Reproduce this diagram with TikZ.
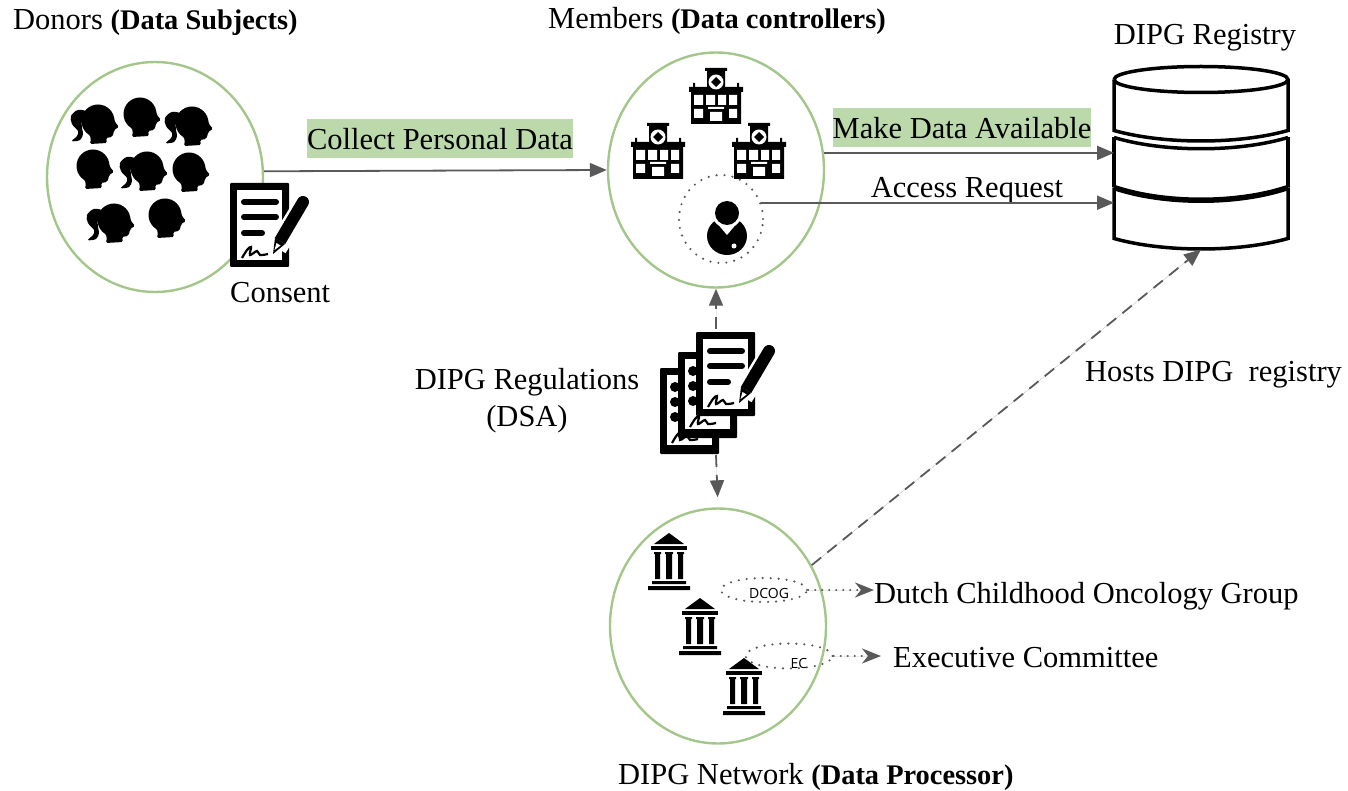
\documentclass[tikz,border=0pt]{standalone}
\usepackage{fontspec}
\setmainfont{Liberation Serif}
\newfontfamily\tagfont{Open Sans}
\usepackage{xcolor}
\usetikzlibrary{arrows.meta,positioning,shapes.geometric}
\definecolor{ringgreen}{HTML}{A3C78A}
\definecolor{markgreen}{HTML}{BBD9AB}
\definecolor{flowgray}{HTML}{595959}
\newcommand{\boldpart}[1]{{\fontsize{28.4}{37}\selectfont\textbf{#1}}}

\begin{document}
\begin{tikzpicture}[
    x=1pt, y=-1pt,
    txt/.style={font=\fontsize{30.5}{37}\selectfont, inner sep=0pt, align=center},
    marked/.style={txt, fill=markgreen, minimum height=39pt},
    ring/.style={draw=ringgreen, line width=2.4pt, ellipse, inner sep=0pt, minimum width=216pt, minimum height=235pt},
    dotring/.style={draw=flowgray, ellipse, inner sep=0pt, line width=2.4pt, line cap=round, dash pattern=on 0pt off 8pt},
    spot/.style={inner sep=0pt, outer sep=0pt},
    arrow/.style={-{Triangle[length=17pt,width=14pt]}, draw=flowgray, fill=flowgray, line width=1.8pt},
    dasharrow/.style={arrow, dash pattern=on 12pt off 8pt},
    dotarrow/.style={-{Stealth[length=19pt,width=15pt,inset=6pt]}, draw=flowgray, fill=flowgray, line width=2.2pt, line cap=round, dash pattern=on 0pt off 7pt},
    headicon/.pic={
        \fill (-2,-4) circle (16.5pt);
        \fill[rounded corners=1.5pt] (-13,6) -- (-9,13) -- (-10,19) -- (7,18) -- (6,13) -- (12,12) -- (14,7) -- (14,5) -- (19,2) -- (15,-3) -- (13,-9) -- cycle;
    },
    tailicon/.pic={
        \pic at (5,0) {headicon};
        \fill plot[smooth cycle, tension=0.6] coordinates {(-8,-13) (-17,-15) (-24,-9) (-23,-1) (-17,6) (-18,11) (-23,16) (-15,15) (-12,9) (-13,3) (-13,-6)};
    },
    hospitalicon/.pic={
        \fill (16,0) rectangle (38,3) (18,3) rectangle (36,20);
        \fill (4,15) rectangle (6,20) (48,15) rectangle (50,20);
        \fill (0,19) rectangle (54,24) (2,23) rectangle (52,56);
        \fill[white] (27,14) circle (7.5pt);
        \fill (27,9) -- (32,14) -- (27,19) -- (22,14) -- cycle;
        \fill[white] (5,27) rectangle (14,37) (17,27) rectangle (26,37) (29,27) rectangle (37,37) (40,27) rectangle (48,37);
        \fill[white] (5,41) rectangle (14,50) (40,41) rectangle (48,50);
        \fill[white] (19,39) rectangle (35,41) (21,44) rectangle (33,53);
    },
    templeicon/.pic={
        \fill (21,0) -- (36,11) -- (6,11) -- cycle;
        \fill (3,13) rectangle (39,17);
        \fill (6,19) rectangle (13,21) (17,19) rectangle (25,21) (29,19) rectangle (36,21);
        \fill (7,21) rectangle (12,46) (18,21) rectangle (24,46) (30,21) rectangle (35,46);
        \fill (4,48) rectangle (38,51) (0,53) rectangle (42,57);
    },
    docicon/.pic={
        \fill[rounded corners=1pt] (0,0) rectangle (59,84);
        \fill[white] (7,7) rectangle (52,77);
        \draw[line width=6pt, line cap=round] (14,19) -- (46,19) (14,34) -- (46,34) (14,50) -- (32,50);
        \draw[line width=2.2pt] plot[smooth, tension=0.6] coordinates {(12,75) (17,67) (21,64) (20,72) (27,68) (30,72) (38,71)};
        \draw[white, line width=20pt] (75,19) -- (47,65);
        \draw[line width=12pt, line cap=round] (73,19) -- (60,41);
        \draw[line width=12pt] (60,41) -- (50,58);
        \fill (45,55) -- (55,61) -- (43,71) -- cycle;
        \fill[white] (46.5,60) -- (50.5,62.5) -- (44.5,67) -- cycle;
    },
    sheeticon/.pic={
        \fill[rounded corners=1pt] (0,0) rectangle (59,86);
        \fill[white] (7,7) rectangle (52,77);
        \fill (15,19) circle (5pt) (15,34) circle (5pt) (15,49) circle (5pt);
        \draw[line width=2.2pt] plot[smooth, tension=0.6] coordinates {(12,75) (17,67) (21,64) (20,72) (27,68) (30,72) (38,71)};
    },
]
    \useasboundingbox (0,0) rectangle (1348,791);

    % Circles
    \node[ring, minimum height=230pt] (donors) at (155,177) {};
    \node[ring] (members) at (716,170) {};
    \node[ring] (network) at (718,626) {};

    % Heads
    \pic at (95,125) {tailicon};
    \pic at (142,118) {headicon};
    \pic at (189,127) {tailicon};
    \pic at (95,170) {headicon};
    \pic at (144,172) {tailicon};
    \pic at (191,173) {headicon};
    \pic at (111,224) {tailicon};
    \pic at (167,219) {headicon};

    % Consent form
    \node[spot, minimum width=78pt, minimum height=84pt] (form) at (269,225) {};
    \pic at (230,183) {docicon};
    \node[txt, anchor=north west] (consent) at (230,282) {Consent};

    % Hospitals and doctor
    \pic at (689,68) {hospitalicon};
    \pic at (631,123) {hospitalicon};
    \pic at (732,123) {hospitalicon};
    \node[dotring, minimum width=84pt, minimum height=88pt] (doctor) at (721,219) {};
    \fill (727,236) ellipse (20pt and 19pt);
    \fill[white] (727,213) circle (15pt);
    \fill[white] (716,222) -- (738,222) -- (727,235) -- cycle;
    \fill (727,213) circle (12pt);
    \fill[white] (734,246) circle (2.5pt);

    % Regulations
    \node[spot, minimum width=112pt, minimum height=126pt] (regs) at (716,392) {};
    \pic at (660,368) {sheeticon};
    \pic at (678,352) {sheeticon};
    \pic at (696,332) {docicon};

    % Temples
    \pic at (648,533) {templeicon};
    \pic at (679,598) {templeicon};
    \pic at (723,658) {templeicon};
    \node[dotring, minimum width=86pt, minimum height=24pt] (dcog) at (764,590) {};
    \node[dotring, minimum width=87pt, minimum height=25pt] (ec) at (789,656) {};
    \node[spot, font=\tagfont\fontsize{14}{16}\selectfont] (dcogtext) at (769,593) {DCOG};
    \node[spot, font=\tagfont\fontsize{14}{16}\selectfont] (ectext) at (799,663) {EC};

    % Registry
    \node[spot, minimum width=174pt, minimum height=183pt] (registry) at (1201,158) {};
    \draw[line width=3.5pt] (registry.north west) ++(0,13) coordinate (dbtop)
        arc[start angle=180, end angle=-180, x radius=87pt, y radius=13pt];
    \draw[line width=3.5pt] (dbtop) -- ++(0,51) .. controls +(50,14) and +(-50,14) .. ++(174,0) -- ++(0,-51);
    \draw[line width=3.5pt] (dbtop) ++(0,58) -- ++(0,50) ++(174,0) -- ++(0,-50);
    \draw[line width=3.5pt] (dbtop) ++(0,58) .. controls +(50,15) and +(-50,15) .. ++(174,0);
    \draw[line width=5.5pt] (dbtop) ++(0,108) .. controls +(50,17) and +(-50,17) .. ++(174,0);
    \draw[line width=3.5pt] (dbtop) ++(0,108) -- ++(0,51) .. controls +(50,14) and +(-50,14) .. ++(174,0) -- ++(0,-51);

    % Titles
    \node[txt, anchor=west] (donorstitle) at (13,23) {Donors \boldpart{(Data Subjects)}};
    \node[txt, anchor=west] (memberstitle) at (548,21) {Members \boldpart{(Data controllers)}};
    \node[txt] (registrytitle) at (1205,38) {DIPG Registry};
    \node[txt, anchor=west] (networktitle) at (618,777) {DIPG Network \boldpart{(Data Processor)}};

    % Labels
    \node[marked, minimum width=266pt] (collect) at (440,139) {Collect Personal Data};
    \node[marked, minimum width=255pt] (available) at (962,128) {Make Data Available};
    \node[txt] (access) at (967,191) {Access Request};
    \node[txt] (regstext) at (527,401) {DIPG Regulations\\(DSA)};
    \node[txt, anchor=west] (hosts) at (1085,375) {Hosts DIPG\ \ registry};
    \node[txt, anchor=west] (dutch) at (874,596) {Dutch Childhood Oncology Group};
    \node[txt, anchor=west] (executive) at (893,658) {Executive Committee};

    % Arrows
    \draw[arrow] (donors.3) -- (members.west);
    \draw[arrow] (members.9) -- (members.9 -| registry.west);
    \draw[arrow] (doctor.22) -- (doctor.22 -| registry.west);
    \draw[dasharrow] (regs.north) -- (members.south);
    \draw[dasharrow, shorten >=10pt] (regs.south) -- (network.north);
    \draw[dasharrow] (network.33) -- (registry.south);
    \draw[dotarrow] (dcog.east) -- (dutch.west |- dcog.east);
    \draw[dotarrow, shorten >=12pt] (ec.east) -- (executive.west |- ec.east);
\end{tikzpicture}
\end{document}
